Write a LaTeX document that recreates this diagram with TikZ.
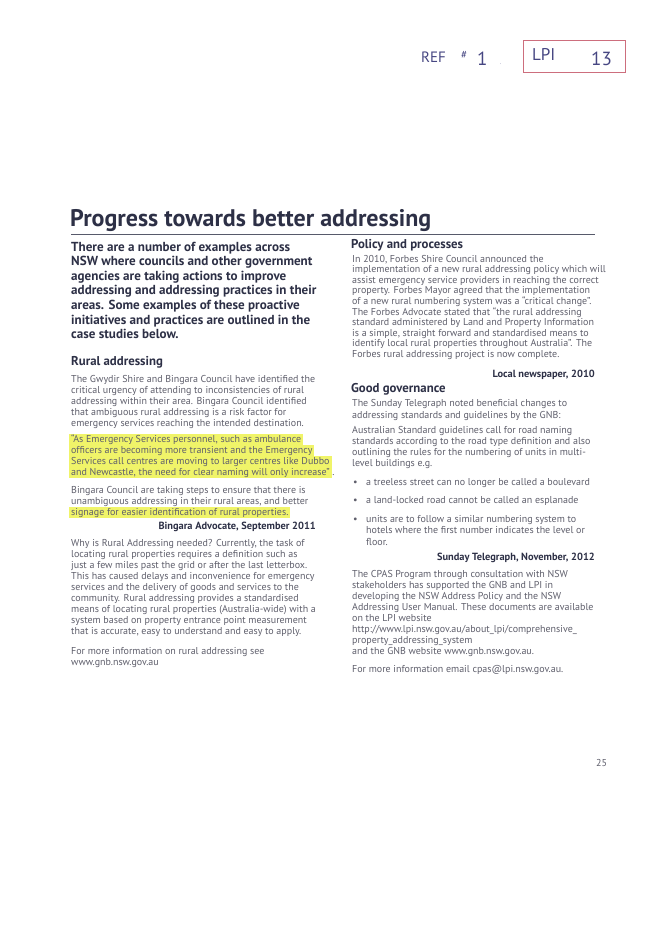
\documentclass[tikz,border=0pt]{standalone}
\usepackage{fontspec}
\setmainfont{PT Sans}
\definecolor{inkdark}{RGB}{45,48,70}
\definecolor{inkgray}{RGB}{95,95,108}
\definecolor{hilite}{RGB}{240,244,105}
\definecolor{pen}{RGB}{70,70,130}
\definecolor{redpen}{RGB}{205,110,125}
\begin{document}
\begin{tikzpicture}
        [x=1pt, y=-1pt,
        body/.style={anchor=base west, inner sep=0pt, text=inkgray, font=\fontsize{10}{11}\selectfont},
        lead/.style={anchor=base west, inner sep=0pt, text=inkdark, font=\bfseries\fontsize{13.1}{14.6}\selectfont},
        head/.style={anchor=base west, inner sep=0pt, text=inkdark, font=\bfseries\fontsize{12.8}{14}\selectfont},
        source/.style={anchor=base east, inner sep=0pt, text=inkdark, font=\bfseries\fontsize{10.4}{11}\selectfont},
        marked/.style={body, fill=hilite, inner xsep=2pt, text height=8pt, text depth=2.8pt},
        hand/.style={anchor=base west, inner sep=0pt, text=pen}]

        \useasboundingbox[fill=white] (0,0) rectangle (662,942);

        % handwritten reference at the top
        \node[hand, font=\fontsize{15}{15}\selectfont] (ref) at (421,63) {REF};
        \node[hand, font=\fontsize{11}{11}\selectfont] (hash) at (461,59) {\#};
        \node[hand, font=\fontsize{19}{19}\selectfont] (one) at (477,66) {1};
        \node[hand, font=\fontsize{5}{5}\selectfont] (dot) at (500,64) {.};
        \draw[redpen, thick] (523,40) rectangle (625,72);
        \node[hand, font=\fontsize{17}{17}\selectfont] (lpi) at (532,60) {LPI};
        \node[hand, font=\fontsize{19}{19}\selectfont] (num) at (591,66) {13};

        % title
        \node[anchor=base west, inner sep=0pt, text=inkdark, font=\bfseries\fontsize{24}{26}\selectfont] (title) at (70,226) {Progress towards better addressing};
        \draw[inkdark!80, line width=1pt] (71,234) -- (595,234);

        % lead paragraph
        \foreach \txt [count=\i from 0] in {There are a number of examples across,
            NSW where councils and other government,
            agencies are taking actions to improve,
            addressing and addressing practices in their,
            {areas. Some examples of these proactive},
            initiatives and practices are outlined in the,
            case studies below.}
            \node[lead] (lead-\i) at (71,{251+14.6*\i}) {\txt};

        % Rural addressing
        \node[head] (rural) at (71,365) {Rural addressing};
        \foreach \txt [count=\i from 0] in {The Gwydir Shire and Bingara Council have identified the,
            critical urgency of attending to inconsistencies of rural,
            {addressing within their area. Bingara Council identified},
            that ambiguous rural addressing is a risk factor for,
            emergency services reaching the intended destination.}
            \node[body] (rural-\i) at (71,{382+11*\i}) {\txt};

        % highlighted quote
        \foreach \txt [count=\i from 0] in {{“As Emergency Services personnel, such as ambulance},
            officers are becoming more transient and the Emergency,
            Services call centres are moving to larger centres like Dubbo,
            {and Newcastle, the need for clear naming will only increase”}}
            \node[marked] (quote-\i) at (69,{442+11*\i}) {\txt};
        \node[body] (stop) at (quote-3.base east) {.};

        \node[body] (bingara-0) at (71,493) {Bingara Council are taking steps to ensure that there is};
        \node[body] (bingara-1) at (71,504) {unambiguous addressing in their rural areas, and better};
        \node[marked] (bingara-2) at (69,515) {signage for easier identification of rural properties.};
        \node[source] (advocate) at (316,529) {Bingara Advocate, September 2011};

        \foreach \txt [count=\i from 0] in {{Why is Rural Addressing needed? Currently, the task of},
            locating rural properties requires a definition such as,
            just a few miles past the grid or after the last letterbox.,
            This has caused delays and inconvenience for emergency,
            services and the delivery of goods and services to the,
            {community. Rural addressing provides a standardised},
            means of locating rural properties (Australia-wide) with a,
            system based on property entrance point measurement,
            {that is accurate, easy to understand and easy to apply.}}
            \node[body] (why-\i) at (71,{546+11.1*\i}) {\txt};

        \node[body] (more-0) at (71,654) {For more information on rural addressing see};
        \node[body] (more-1) at (71,665) {www.gnb.nsw.gov.au};

        % Policy and processes
        \node[head] (policy) at (351,248) {Policy and processes};
        \foreach \txt [count=\i from 0] in {{In 2010, Forbes Shire Council announced the},
            implementation of a new rural addressing policy which will,
            assist emergency service providers in reaching the correct,
            {property. Forbes Mayor agreed that the implementation},
            {of a new rural numbering system was a “critical change”.},
            The Forbes Advocate stated that “the rural addressing,
            standard administered by Land and Property Information,
            {is a simple, straight forward and standardised means to},
            {identify local rural properties throughout Australia”. The},
            Forbes rural addressing project is now complete.}
            \node[body] (policy-\i) at (352,{262+10.6*\i}) {\txt};
        \node[source] (newspaper) at (595,377) {Local newspaper, 2010};

        % Good governance
        \node[head] (governance) at (351,392) {Good governance};
        \node[body] (sunday-0) at (352,406) {The Sunday Telegraph noted beneficial changes to};
        \node[body] (sunday-1) at (352,418) {addressing standards and guidelines by the GNB:};
        \foreach \txt [count=\i from 0] in {Australian Standard guidelines call for road naming,
            standards according to the road type definition and also,
            outlining the rules for the numbering of units in multi-,
            level buildings e.g.}
            \node[body] (standard-\i) at (352,{433+11*\i}) {\txt};

        \foreach \y/\txt [count=\i] in {485/a treeless street can no longer be called a boulevard,
            503/a land-locked road cannot be called an esplanade,
            522/units are to follow a similar numbering system to}
            {
            \node[body] (dot-\i) at (353,\y) {\textbullet};
            \node[body] (bullet-\i) at (366,\y) {\txt};
            }
        \node[body] (bullet-4) at (366,533) {hotels where the first number indicates the level or};
        \node[body] (bullet-5) at (366,545) {floor.};
        \node[source] (telegraph) at (595,560) {Sunday Telegraph, November, 2012};

        \foreach \txt [count=\i from 0] in {The CPAS Program through consultation with NSW,
            stakeholders has supported the GNB and LPI in,
            developing the NSW Address Policy and the NSW,
            {Addressing User Manual. These documents are available},
            on the LPI website,
            http://www.lpi.nsw.gov.au/about\_lpi/comprehensive\_,
            property\_addressing\_system,
            and the GNB website www.gnb.nsw.gov.au.}
            \node[body] (cpas-\i) at (352,{577+11.1*\i}) {\txt};
        \node[body] (email) at (352,672) {For more information email cpas@lpi.nsw.gov.au.};

        % page number
        \node[body] (page) at (596,766) {25};

        \end{tikzpicture}
\end{document}
